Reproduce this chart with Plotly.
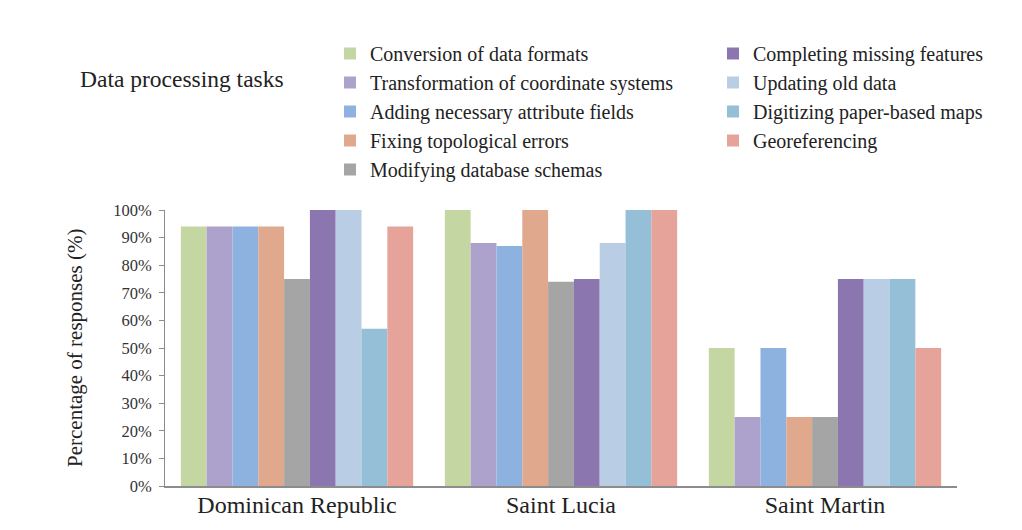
import plotly.graph_objects as go

countries = ["Dominican Republic", "Saint Lucia", "Saint Martin"]

tasks = [
    "Conversion of data formats",
    "Transformation of coordinate systems",
    "Adding necessary attribute fields",
    "Fixing topological errors",
    "Modifying database schemas",
    "Completing missing features",
    "Updating old data",
    "Digitizing paper-based maps",
    "Georeferencing",
]

# Percentage of responses per task, per country
conversion = [94, 100, 50]
transformation = [94, 88, 25]
adding_fields = [94, 87, 50]
fixing_topology = [94, 100, 25]
modifying_schemas = [75, 74, 25]
completing_features = [100, 75, 75]
updating_data = [100, 88, 75]
digitizing_maps = [57, 100, 75]
georeferencing = [94, 100, 50]

series = [conversion, transformation, adding_fields, fixing_topology,
          modifying_schemas, completing_features, updating_data,
          digitizing_maps, georeferencing]

colors = ["#C4D6A2", "#ADA2CB", "#8EB2DF", "#E0A98E", "#A5A5A5",
          "#8C76AF", "#B9CDE5", "#94BFD6", "#E6A39A"]

# first five tasks in the left legend column, the rest in the right one
legend_ids = ["legend"] * 5 + ["legend2"] * 4

serif = "Liberation Serif, Times New Roman, serif"

fig = go.Figure()
for i, (name, vals, col, lg) in enumerate(zip(tasks, series, colors, legend_ids)):
    fig.add_trace(go.Bar(
        x=countries, y=vals, name=name, legend=lg, legendgroup=f"g{i}",
        marker=dict(color=col, line=dict(width=0)),
    ))

legend_style = dict(
    orientation="v",
    xref="container", yref="container",
    xanchor="left", yanchor="top",
    font=dict(family=serif, size=20, color="#222"),
    tracegroupgap=0,
    itemwidth=30,
    bgcolor="rgba(0,0,0,0)",
)

fig.update_layout(
    width=1022, height=530,
    margin=dict(l=165, r=65, t=210, b=44, autoexpand=False),
    paper_bgcolor="white", plot_bgcolor="white",
    barmode="group", bargap=0.12, bargroupgap=0,
    showlegend=True,
    legend=dict(x=330 / 1022, y=1 - 34 / 530, **legend_style),
    legend2=dict(x=713 / 1022, y=1 - 34 / 530, **legend_style),
    xaxis=dict(
        showline=True, linecolor="#8C8C8C", linewidth=1.5,
        ticks="", showgrid=False,
        ticklabelstandoff=-4,
        tickfont=dict(family=serif, size=24, color="#222"),
    ),
    yaxis=dict(
        range=[0, 100], dtick=10, ticksuffix="%",
        showline=True, linecolor="#8C8C8C", linewidth=1,
        ticks="outside", ticklen=5, tickcolor="#8C8C8C",
        ticklabelstandoff=4,
        showgrid=False, zeroline=False,
        tickfont=dict(family=serif, size=16.5, color="#333"),
    ),
    annotations=[
        dict(
            text="Data processing tasks", xref="paper", yref="paper",
            x=(78 - 165) / 792, y=1 + (210 - 79) / 276,
            xanchor="left", yanchor="middle", showarrow=False,
            font=dict(family=serif, size=23.5, color="#222"),
        ),
        dict(
            text="Percentage of responses (%)", xref="paper", yref="paper",
            x=(75 - 165) / 792, y=(486 - 348) / 276,
            xanchor="center", yanchor="middle", showarrow=False,
            textangle=-90,
            font=dict(family=serif, size=21, color="#222"),
        ),
    ],
)

fig.write_html("out.html")
